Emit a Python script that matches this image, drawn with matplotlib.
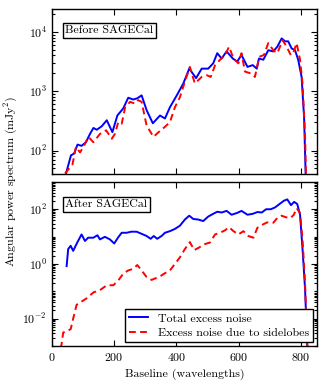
import numpy as np
import matplotlib
matplotlib.use("Agg")
import matplotlib.pyplot as plt
from matplotlib.ticker import LogLocator, FixedLocator, NullFormatter

plt.rcParams['font.family'] = 'serif'
plt.rcParams['font.serif'] = ['cmr10', 'DejaVu Serif']
plt.rcParams['mathtext.fontset'] = 'cm'
plt.rcParams['axes.formatter.use_mathtext'] = True
plt.rcParams['font.size'] = 8.6

# Before SAGECal
x_top_total = [45, 61, 71, 82, 95, 109, 122, 133, 144, 160, 176, 194, 210, 229, 245, 261,
               274, 288, 304, 324, 347, 363, 379, 401, 422, 441, 463, 481, 502, 518, 531,
               545, 561, 581, 595, 609, 628, 645, 658, 665, 679, 695, 711, 724, 738, 749,
               759, 770, 781, 791, 802, 810, 815, 820]
y_top_total = [41, 83, 89, 126, 120, 138, 190, 240, 224, 257, 324, 204, 389, 513, 776, 724,
               759, 851, 479, 288, 389, 347, 537, 851, 1350, 2400, 1660, 2400, 2400, 2950, 4370,
               3550, 4680, 3550, 3160, 4070, 2570, 2750, 2400, 3550, 3390, 4900, 4680, 5620, 7760, 6920,
               6920, 5250, 4900, 3390, 1740, 363, 40, 5]
x_top_side = [42, 58, 66, 77, 90, 101, 117, 133, 154, 174, 192, 202, 213, 224, 235, 251,
              267, 277, 288, 304, 326, 347, 363, 379, 395, 411, 427, 443, 459, 481, 497,
              510, 524, 540, 556, 569, 583, 599, 609, 620, 638, 652, 666, 681, 695, 711,
              724, 741, 754, 767, 775, 786, 797, 805, 813, 816, 820]
y_top_side = [41, 52, 59, 115, 93, 115, 170, 138, 190, 219, 158, 190, 302, 282, 537, 661,
              617, 708, 661, 263, 170, 214, 251, 302, 537, 794, 1450, 2570, 1350, 1740, 1860,
              1740, 2750, 3390, 4070, 5620, 3550, 2950, 4370, 2140, 2000, 1740, 3800, 4070, 6460, 4900,
              4370, 7240, 5620, 4070, 4370, 6460, 3390, 1350, 190, 40, 5]

# After SAGECal
x_bot_total = [47, 52, 60, 68, 81, 95, 106, 116, 133, 146, 154, 170, 186, 200, 213, 224,
               240, 255, 272, 288, 304, 317, 327, 338, 352, 363, 379, 395, 411, 427, 441,
               454, 470, 486, 502, 518, 531, 545, 561, 577, 593, 609, 628, 645, 660, 674,
               688, 703, 717, 731, 745, 756, 768, 778, 788, 797, 805, 813, 820, 825]
y_bot_total = [0.83, 3.5, 4.6, 3.0, 6.0, 12, 6.9, 9.1, 9.1, 11.2, 7.9, 9.8, 7.9, 5.6, 9.5, 13.8,
               13.8, 15.1, 15.1, 12.6, 10.5, 8.3, 10.5, 8.3, 10.5, 13.8, 15.8, 19.1, 25, 42, 58,
               44, 42, 37, 54, 68, 81, 76, 87, 63, 72, 87, 63, 68, 79, 76,
               100, 100, 117, 155, 204, 229, 141, 186, 155, 63, 3.5, 0.13, 0.0012, 0.0001]
x_bot_side = [28, 31, 36, 47, 60, 71, 79, 95, 111, 133, 154, 176, 197, 213, 229, 245,
              261, 274, 288, 304, 320, 336, 352, 368, 379, 395, 411, 427, 443, 457, 473,
              488, 507, 524, 540, 556, 569, 583, 599, 615, 631, 647, 660, 677, 691, 711,
              724, 738, 751, 767, 777, 786, 797, 805, 813, 820, 825]
y_bot_side = [0.0008, 0.0012, 0.0031, 0.0035, 0.0041, 0.0138, 0.032, 0.042, 0.055, 0.091, 0.11, 0.166, 0.166, 0.25, 0.44, 0.58,
              0.66, 0.91, 0.58, 0.33, 0.26, 0.31, 0.38, 0.5, 0.58, 1.0, 1.74, 3.5, 6.3, 3.2, 4.0,
              5.2, 6.0, 12, 13.8, 17, 22, 15.8, 12, 15.8, 10.5, 9.1, 21, 27.5, 33, 32,
              48, 58, 51, 48, 63, 110, 72, 7.9, 0.22, 0.0012, 0.0001]

fig = plt.figure(figsize=(3.27, 3.87), dpi=100)
ax1 = fig.add_axes([0.159, 0.550, 0.809, 0.426])
ax2 = fig.add_axes([0.159, 0.106, 0.809, 0.424])

ax1.semilogy(x_top_total, y_top_total, color='#0000ff', lw=1.4)
ax1.semilogy(x_top_side, y_top_side, color='#ff0000', lw=1.4, ls=(0, (3.5, 2.2)))
ax2.semilogy(x_bot_total, y_bot_total, color='#0000ff', lw=1.4, label='Total excess noise')
ax2.semilogy(x_bot_side, y_bot_side, color='#ff0000', lw=1.4, ls=(0, (3.5, 2.2)),
             label='Excess noise due to sidelobes')

ax1.set_ylim(40, 2.4e4)
ax2.set_ylim(1e-3, 1e3)

for ax in (ax1, ax2):
    ax.set_xlim(0, 850)
    ax.xaxis.set_major_locator(FixedLocator([0, 200, 400, 600, 800]))
    ax.yaxis.set_minor_locator(LogLocator(base=10, subs=np.arange(1, 10), numticks=30))
    ax.yaxis.set_minor_formatter(NullFormatter())
    ax.tick_params(which='both', direction='in', top=True, right=True, width=0.8)
    ax.tick_params(which='major', length=4)
    ax.tick_params(which='minor', length=2)
    for s in ax.spines.values():
        s.set_linewidth(1.0)

ax1.yaxis.set_major_locator(FixedLocator([1e2, 1e3, 1e4]))
ax2.yaxis.set_major_locator(FixedLocator([1e-2, 1e0, 1e2]))
ax1.tick_params(labelbottom=False)

box = dict(boxstyle='square,pad=0.2', fc='white', ec='black', lw=1.0)
ax1.text(0.05, 0.872, 'Before SAGECal', transform=ax1.transAxes, va='center', bbox=box)
ax2.text(0.05, 0.862, 'After SAGECal', transform=ax2.transAxes, va='center', bbox=box)

leg = ax2.legend(loc='lower right', fancybox=False, framealpha=1, edgecolor='black',
                 borderaxespad=0.3, handlelength=1.6, handletextpad=0.8,
                 borderpad=0.35, labelspacing=0.35, fontsize=8.6)
leg.get_frame().set_linewidth(1.0)

ax2.set_xlabel('Baseline (wavelengths)')
fig.text(0.035, 0.53, 'Angular power spectrum (mJy$^2$)', rotation=90, va='center', ha='center')

fig.savefig('out.png', dpi=100)
